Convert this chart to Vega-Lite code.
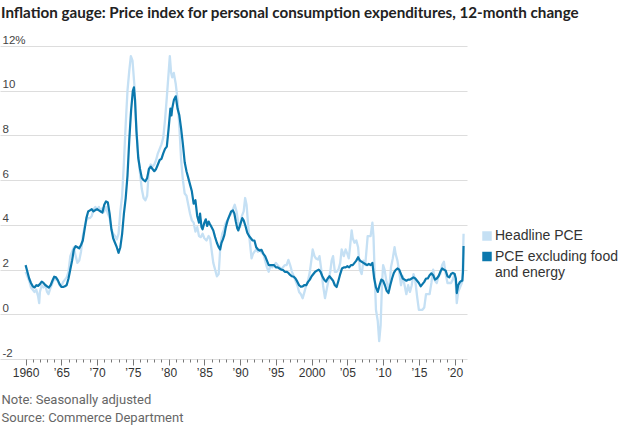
{
  "$schema": "https://vega.github.io/schema/vega-lite/v6.json",
  "width": 467,
  "height": 313,
  "autosize": {"type": "none"},
  "padding": {"left": 0, "top": 46, "right": 153, "bottom": 66},
  "background": "white",
  "config": {"view": {"stroke": null}},
  "title": {
    "text": "Inflation gauge: Price index for personal consumption expenditures, 12-month change",
    "anchor": "start",
    "frame": "group",
    "baseline": "alphabetic",
    "offset": 1,
    "dx": 1,
    "font": "Lato",
    "fontSize": 15.2,
    "fontWeight": "bold",
    "color": "#222222"
  },
  "datasets": {
    "core": [
      {"d":1960,"v":2.2},{"d":1960.25,"v":1.9},{"d":1960.5,"v":1.6},{"d":1960.75,"v":1.4},{"d":1961,"v":1.25},{"d":1961.25,"v":1.2},{"d":1961.5,"v":1.3},{"d":1961.75,"v":1.27},{"d":1962,"v":1.35},{"d":1962.25,"v":1.46},{"d":1962.5,"v":1.4},{"d":1962.75,"v":1.31},{"d":1963,"v":1.25},{"d":1963.25,"v":1.19},{"d":1963.5,"v":1.3},{"d":1963.75,"v":1.5},{"d":1964,"v":1.68},{"d":1964.25,"v":1.65},{"d":1964.5,"v":1.53},{"d":1964.75,"v":1.35},{"d":1965,"v":1.23},{"d":1965.25,"v":1.22},{"d":1965.5,"v":1.25},{"d":1965.75,"v":1.31},{"d":1966,"v":1.6},{"d":1966.25,"v":2.0},{"d":1966.5,"v":2.4},{"d":1966.75,"v":2.9},{"d":1967,"v":3.05},{"d":1967.25,"v":3.0},{"d":1967.5,"v":2.95},{"d":1967.75,"v":3.1},{"d":1968,"v":3.3},{"d":1968.25,"v":3.8},{"d":1968.5,"v":4.3},{"d":1968.75,"v":4.6},{"d":1969,"v":4.65},{"d":1969.25,"v":4.7},{"d":1969.5,"v":4.6},{"d":1969.75,"v":4.66},{"d":1970,"v":4.7},{"d":1970.25,"v":4.65},{"d":1970.5,"v":4.6},{"d":1970.75,"v":4.55},{"d":1971,"v":4.9},{"d":1971.25,"v":5.05},{"d":1971.5,"v":5.0},{"d":1971.75,"v":4.5},{"d":1972,"v":3.8},{"d":1972.25,"v":3.4},{"d":1972.5,"v":3.2},{"d":1972.75,"v":3.0},{"d":1973,"v":2.75},{"d":1973.25,"v":3.0},{"d":1973.5,"v":3.6},{"d":1973.75,"v":4.5},{"d":1974,"v":5.2},{"d":1974.25,"v":6.2},{"d":1974.5,"v":7.8},{"d":1974.75,"v":9.1},{"d":1975,"v":10.0},{"d":1975.15,"v":10.15},{"d":1975.3,"v":9.6},{"d":1975.5,"v":8.2},{"d":1975.75,"v":7.0},{"d":1976,"v":6.5},{"d":1976.25,"v":6.1},{"d":1976.5,"v":6.0},{"d":1976.75,"v":5.95},{"d":1977,"v":6.1},{"d":1977.25,"v":6.5},{"d":1977.5,"v":6.6},{"d":1977.75,"v":6.5},{"d":1978,"v":6.4},{"d":1978.25,"v":6.5},{"d":1978.5,"v":6.7},{"d":1978.75,"v":6.9},{"d":1979,"v":6.95},{"d":1979.25,"v":7.2},{"d":1979.5,"v":7.4},{"d":1979.75,"v":7.5},{"d":1980,"v":8.3},{"d":1980.25,"v":9.2},{"d":1980.4,"v":8.9},{"d":1980.5,"v":9.2},{"d":1980.75,"v":9.6},{"d":1981,"v":9.75},{"d":1981.25,"v":9.2},{"d":1981.5,"v":8.9},{"d":1981.75,"v":8.3},{"d":1982,"v":7.6},{"d":1982.25,"v":6.8},{"d":1982.5,"v":6.4},{"d":1982.75,"v":6.1},{"d":1983,"v":5.8},{"d":1983.25,"v":5.5},{"d":1983.5,"v":4.95},{"d":1983.75,"v":5.1},{"d":1984,"v":4.4},{"d":1984.25,"v":4.1},{"d":1984.4,"v":4.5},{"d":1984.6,"v":3.9},{"d":1984.75,"v":3.8},{"d":1985,"v":4.1},{"d":1985.2,"v":4.25},{"d":1985.4,"v":3.95},{"d":1985.6,"v":4.15},{"d":1985.75,"v":4.05},{"d":1986,"v":3.9},{"d":1986.25,"v":3.75},{"d":1986.5,"v":3.45},{"d":1986.75,"v":3.2},{"d":1987,"v":3.0},{"d":1987.2,"v":2.9},{"d":1987.4,"v":3.2},{"d":1987.6,"v":3.35},{"d":1987.8,"v":3.55},{"d":1988,"v":3.9},{"d":1988.25,"v":4.2},{"d":1988.5,"v":4.4},{"d":1988.75,"v":4.6},{"d":1989,"v":4.65},{"d":1989.2,"v":4.5},{"d":1989.4,"v":4.15},{"d":1989.6,"v":3.85},{"d":1989.75,"v":3.75},{"d":1990,"v":4.0},{"d":1990.3,"v":4.3},{"d":1990.5,"v":4.2},{"d":1990.75,"v":3.95},{"d":1991,"v":3.65},{"d":1991.25,"v":3.5},{"d":1991.5,"v":3.4},{"d":1991.75,"v":3.3},{"d":1992,"v":3.3},{"d":1992.25,"v":3.0},{"d":1992.5,"v":2.9},{"d":1992.75,"v":2.85},{"d":1993,"v":2.88},{"d":1993.25,"v":2.7},{"d":1993.5,"v":2.6},{"d":1993.75,"v":2.4},{"d":1994,"v":2.2},{"d":1994.25,"v":2.2},{"d":1994.5,"v":2.2},{"d":1994.75,"v":2.2},{"d":1995,"v":2.1},{"d":1995.25,"v":2.1},{"d":1995.5,"v":2.05},{"d":1995.75,"v":2.0},{"d":1996,"v":1.98},{"d":1996.25,"v":1.9},{"d":1996.5,"v":1.9},{"d":1996.75,"v":1.85},{"d":1997,"v":1.76},{"d":1997.25,"v":1.7},{"d":1997.5,"v":1.68},{"d":1997.75,"v":1.6},{"d":1998,"v":1.46},{"d":1998.25,"v":1.3},{"d":1998.5,"v":1.23},{"d":1998.75,"v":1.25},{"d":1999,"v":1.31},{"d":1999.25,"v":1.3},{"d":1999.5,"v":1.45},{"d":1999.75,"v":1.55},{"d":2000,"v":1.7},{"d":2000.25,"v":1.8},{"d":2000.5,"v":1.9},{"d":2000.75,"v":1.95},{"d":2001,"v":2.0},{"d":2001.25,"v":1.9},{"d":2001.5,"v":1.7},{"d":2001.75,"v":1.55},{"d":2002,"v":1.46},{"d":2002.25,"v":1.6},{"d":2002.5,"v":1.7},{"d":2002.75,"v":1.6},{"d":2003,"v":1.5},{"d":2003.25,"v":1.3},{"d":2003.5,"v":1.22},{"d":2003.75,"v":1.5},{"d":2004,"v":1.8},{"d":2004.25,"v":2.05},{"d":2004.5,"v":2.1},{"d":2004.75,"v":2.1},{"d":2005,"v":2.15},{"d":2005.25,"v":2.1},{"d":2005.5,"v":2.2},{"d":2005.75,"v":2.2},{"d":2006,"v":2.3},{"d":2006.25,"v":2.4},{"d":2006.5,"v":2.55},{"d":2006.75,"v":2.4},{"d":2007,"v":2.35},{"d":2007.25,"v":2.3},{"d":2007.5,"v":2.25},{"d":2007.75,"v":2.2},{"d":2008,"v":2.25},{"d":2008.25,"v":2.2},{"d":2008.5,"v":2.3},{"d":2008.75,"v":1.6},{"d":2009,"v":1.2},{"d":2009.25,"v":1.0},{"d":2009.5,"v":1.3},{"d":2009.75,"v":1.55},{"d":2010,"v":1.5},{"d":2010.25,"v":1.3},{"d":2010.5,"v":1.05},{"d":2010.75,"v":0.95},{"d":2011,"v":1.3},{"d":2011.25,"v":1.6},{"d":2011.5,"v":1.85},{"d":2011.75,"v":1.98},{"d":2012,"v":2.05},{"d":2012.25,"v":2.0},{"d":2012.5,"v":1.8},{"d":2012.75,"v":1.6},{"d":2013,"v":1.55},{"d":2013.25,"v":1.5},{"d":2013.5,"v":1.55},{"d":2013.75,"v":1.55},{"d":2014,"v":1.6},{"d":2014.25,"v":1.65},{"d":2014.5,"v":1.6},{"d":2014.75,"v":1.5},{"d":2015,"v":1.4},{"d":2015.25,"v":1.25},{"d":2015.5,"v":1.35},{"d":2015.75,"v":1.45},{"d":2016,"v":1.6},{"d":2016.25,"v":1.6},{"d":2016.5,"v":1.75},{"d":2016.75,"v":1.83},{"d":2017,"v":1.75},{"d":2017.25,"v":1.55},{"d":2017.5,"v":1.6},{"d":2017.75,"v":1.7},{"d":2018,"v":1.9},{"d":2018.25,"v":2.05},{"d":2018.5,"v":2.0},{"d":2018.75,"v":1.95},{"d":2019,"v":1.7},{"d":2019.25,"v":1.65},{"d":2019.5,"v":1.8},{"d":2019.75,"v":1.85},{"d":2020,"v":1.8},{"d":2020.17,"v":1.6},{"d":2020.3,"v":0.95},{"d":2020.5,"v":1.3},{"d":2020.75,"v":1.45},{"d":2021,"v":1.5},{"d":2021.08,"v":1.5},{"d":2021.17,"v":1.9},{"d":2021.25,"v":3.05}
    ],
    "head": [
      {"d":1960,"v":1.9},{"d":1960.25,"v":1.7},{"d":1960.5,"v":1.5},{"d":1960.75,"v":1.2},{"d":1961,"v":1.1},{"d":1961.25,"v":1.0},{"d":1961.5,"v":1.1},{"d":1961.75,"v":0.8},{"d":1961.9,"v":0.5},{"d":1962,"v":1.0},{"d":1962.25,"v":1.3},{"d":1962.5,"v":1.2},{"d":1962.75,"v":1.3},{"d":1963,"v":1.0},{"d":1963.2,"v":0.9},{"d":1963.5,"v":1.2},{"d":1963.75,"v":1.4},{"d":1964,"v":1.6},{"d":1964.25,"v":1.55},{"d":1964.5,"v":1.5},{"d":1964.75,"v":1.3},{"d":1965,"v":1.25},{"d":1965.25,"v":1.45},{"d":1965.5,"v":1.55},{"d":1965.75,"v":1.65},{"d":1966,"v":1.9},{"d":1966.25,"v":2.6},{"d":1966.5,"v":2.8},{"d":1966.75,"v":3.0},{"d":1967,"v":2.6},{"d":1967.25,"v":2.3},{"d":1967.5,"v":2.4},{"d":1967.75,"v":2.8},{"d":1968,"v":3.5},{"d":1968.25,"v":3.9},{"d":1968.5,"v":4.2},{"d":1968.75,"v":4.3},{"d":1969,"v":4.3},{"d":1969.25,"v":4.4},{"d":1969.5,"v":4.7},{"d":1969.75,"v":4.8},{"d":1970,"v":4.7},{"d":1970.25,"v":4.8},{"d":1970.5,"v":4.6},{"d":1970.75,"v":4.75},{"d":1971,"v":4.6},{"d":1971.25,"v":4.8},{"d":1971.5,"v":4.5},{"d":1971.75,"v":4.3},{"d":1972,"v":3.8},{"d":1972.25,"v":3.6},{"d":1972.5,"v":3.5},{"d":1972.75,"v":3.35},{"d":1973,"v":3.6},{"d":1973.25,"v":4.6},{"d":1973.5,"v":5.3},{"d":1973.75,"v":6.8},{"d":1974,"v":8.5},{"d":1974.25,"v":10.0},{"d":1974.5,"v":10.9},{"d":1974.72,"v":11.55},{"d":1974.95,"v":11.35},{"d":1975.2,"v":10.3},{"d":1975.4,"v":8.9},{"d":1975.65,"v":7.5},{"d":1976,"v":6.3},{"d":1976.25,"v":5.6},{"d":1976.5,"v":5.2},{"d":1976.75,"v":5.1},{"d":1977,"v":5.3},{"d":1977.25,"v":6.5},{"d":1977.5,"v":6.7},{"d":1977.75,"v":6.6},{"d":1978,"v":6.7},{"d":1978.25,"v":6.9},{"d":1978.5,"v":7.2},{"d":1978.75,"v":7.4},{"d":1979,"v":7.6},{"d":1979.25,"v":7.9},{"d":1979.5,"v":8.7},{"d":1979.75,"v":9.7},{"d":1980,"v":10.8},{"d":1980.17,"v":11.55},{"d":1980.35,"v":10.8},{"d":1980.5,"v":10.6},{"d":1980.72,"v":10.8},{"d":1981,"v":10.3},{"d":1981.25,"v":9.6},{"d":1981.5,"v":8.4},{"d":1981.75,"v":6.9},{"d":1982,"v":6.0},{"d":1982.25,"v":5.4},{"d":1982.5,"v":5.3},{"d":1982.75,"v":4.9},{"d":1983,"v":4.5},{"d":1983.25,"v":4.2},{"d":1983.5,"v":4.1},{"d":1983.75,"v":3.7},{"d":1984,"v":3.9},{"d":1984.25,"v":3.5},{"d":1984.5,"v":3.45},{"d":1984.75,"v":3.6},{"d":1985,"v":3.4},{"d":1985.3,"v":3.3},{"d":1985.6,"v":3.5},{"d":1985.8,"v":3.4},{"d":1986,"v":2.9},{"d":1986.25,"v":2.3},{"d":1986.5,"v":2.0},{"d":1986.75,"v":1.7},{"d":1987,"v":1.8},{"d":1987.25,"v":3.1},{"d":1987.5,"v":3.6},{"d":1987.75,"v":3.8},{"d":1988,"v":4.1},{"d":1988.25,"v":4.2},{"d":1988.5,"v":4.4},{"d":1988.75,"v":4.5},{"d":1989,"v":4.7},{"d":1989.25,"v":4.9},{"d":1989.5,"v":4.6},{"d":1989.75,"v":4.1},{"d":1990,"v":3.9},{"d":1990.25,"v":4.4},{"d":1990.5,"v":4.6},{"d":1990.7,"v":5.2},{"d":1990.9,"v":4.9},{"d":1991.15,"v":3.9},{"d":1991.4,"v":3.1},{"d":1991.6,"v":2.5},{"d":1991.8,"v":2.7},{"d":1992,"v":2.8},{"d":1992.25,"v":2.9},{"d":1992.5,"v":2.8},{"d":1992.75,"v":2.9},{"d":1993,"v":2.75},{"d":1993.25,"v":2.7},{"d":1993.5,"v":2.4},{"d":1993.75,"v":2.1},{"d":1994,"v":1.9},{"d":1994.25,"v":2.2},{"d":1994.5,"v":2.1},{"d":1994.75,"v":2.2},{"d":1995,"v":2.3},{"d":1995.25,"v":2.2},{"d":1995.5,"v":2.1},{"d":1995.75,"v":2.0},{"d":1996,"v":2.1},{"d":1996.25,"v":2.2},{"d":1996.5,"v":2.2},{"d":1996.75,"v":2.43},{"d":1997,"v":2.2},{"d":1997.25,"v":1.9},{"d":1997.5,"v":1.7},{"d":1997.75,"v":1.5},{"d":1998,"v":1.3},{"d":1998.25,"v":1.0},{"d":1998.5,"v":0.9},{"d":1998.75,"v":0.72},{"d":1999,"v":1.0},{"d":1999.25,"v":1.3},{"d":1999.5,"v":1.5},{"d":1999.75,"v":1.9},{"d":2000,"v":2.5},{"d":2000.15,"v":2.9},{"d":2000.4,"v":2.6},{"d":2000.6,"v":2.5},{"d":2000.9,"v":2.45},{"d":2001.1,"v":2.6},{"d":2001.35,"v":2.0},{"d":2001.6,"v":1.3},{"d":2001.87,"v":0.72},{"d":2002.1,"v":1.1},{"d":2002.35,"v":1.5},{"d":2002.6,"v":1.9},{"d":2002.8,"v":2.4},{"d":2003,"v":2.6},{"d":2003.25,"v":1.9},{"d":2003.5,"v":1.9},{"d":2003.75,"v":2.0},{"d":2004,"v":2.3},{"d":2004.2,"v":2.9},{"d":2004.5,"v":2.6},{"d":2004.75,"v":2.9},{"d":2005,"v":2.7},{"d":2005.2,"v":2.5},{"d":2005.4,"v":3.1},{"d":2005.6,"v":3.75},{"d":2005.75,"v":3.4},{"d":2006,"v":3.2},{"d":2006.25,"v":3.3},{"d":2006.5,"v":3.0},{"d":2006.75,"v":2.0},{"d":2007,"v":1.8},{"d":2007.25,"v":2.4},{"d":2007.5,"v":2.2},{"d":2007.84,"v":3.5},{"d":2008,"v":3.5},{"d":2008.25,"v":3.5},{"d":2008.5,"v":4.1},{"d":2008.65,"v":3.5},{"d":2008.85,"v":1.5},{"d":2009,"v":0.2},{"d":2009.25,"v":-0.3},{"d":2009.45,"v":-1.2},{"d":2009.65,"v":-0.5},{"d":2009.85,"v":1.4},{"d":2010,"v":2.2},{"d":2010.2,"v":2.0},{"d":2010.45,"v":1.5},{"d":2010.7,"v":1.2},{"d":2010.9,"v":1.3},{"d":2011.1,"v":2.1},{"d":2011.35,"v":2.5},{"d":2011.6,"v":3.0},{"d":2011.75,"v":2.7},{"d":2012,"v":2.4},{"d":2012.25,"v":1.9},{"d":2012.5,"v":1.3},{"d":2012.75,"v":1.7},{"d":2013,"v":1.3},{"d":2013.25,"v":0.9},{"d":2013.5,"v":1.3},{"d":2013.75,"v":1.0},{"d":2014,"v":1.3},{"d":2014.25,"v":1.8},{"d":2014.5,"v":1.5},{"d":2014.75,"v":0.8},{"d":2015,"v":0.2},{"d":2015.25,"v":0.2},{"d":2015.5,"v":0.2},{"d":2015.75,"v":0.3},{"d":2016,"v":0.9},{"d":2016.25,"v":0.9},{"d":2016.5,"v":0.9},{"d":2016.75,"v":1.4},{"d":2017,"v":2.0},{"d":2017.25,"v":1.5},{"d":2017.5,"v":1.4},{"d":2017.75,"v":1.7},{"d":2018,"v":1.8},{"d":2018.25,"v":2.2},{"d":2018.5,"v":2.35},{"d":2018.75,"v":1.8},{"d":2019,"v":1.4},{"d":2019.25,"v":1.4},{"d":2019.5,"v":1.4},{"d":2019.75,"v":1.55},{"d":2020,"v":1.8},{"d":2020.17,"v":1.3},{"d":2020.3,"v":0.5},{"d":2020.5,"v":1.0},{"d":2020.75,"v":1.2},{"d":2021,"v":1.4},{"d":2021.08,"v":1.5},{"d":2021.17,"v":2.5},{"d":2021.25,"v":3.6}
    ]
  },
  "encoding": {
    "x": {
      "field": "d",
      "type": "quantitative",
      "scale": {"domain": [1956.42, 2021.73], "nice": false, "zero": false},
      "axis": {
        "values": [1960,1961,1962,1963,1964,1965,1966,1967,1968,1969,1970,1971,1972,1973,1974,1975,1976,1977,1978,1979,1980,1981,1982,1983,1984,1985,1986,1987,1988,1989,1990,1991,1992,1993,1994,1995,1996,1997,1998,1999,2000,2001,2002,2003,2004,2005,2006,2007,2008,2009,2010,2011,2012,2013,2014,2015,2016,2017,2018,2019,2020,2021],
        "format": "d",
        "labelExpr": "datum.value % 5 != 0 ? '' : ((datum.value == 1960 || datum.value == 2000) ? datum.label : '\u2019' + substring(datum.label, 2, 4))",
        "labelOverlap": false,
        "grid": false,
        "domain": false,
        "tickColor": "#777777",
        "tickWidth": 1,
        "tickSize": {"condition": {"test": "datum.value % 5 == 0", "value": 6}, "value": 3},
        "labelPadding": 2,
        "labelFont": "Liberation Sans",
        "labelFontSize": 12,
        "labelColor": "#333333",
        "title": ["Note: Seasonally adjusted", "Source: Commerce Department"],
        "titleFont": "Roboto",
        "titleFontSize": 13,
        "titleFontWeight": "normal",
        "titleColor": "#666666",
        "titleAnchor": "start",
        "titleAlign": "left",
        "titleBaseline": "alphabetic",
        "titleLineHeight": 18,
        "titleX": 1,
        "titleY": 44
      }
    },
    "y": {
      "field": "v",
      "type": "quantitative",
      "scale": {"domain": [-2, 12], "nice": false, "zero": false},
      "axis": {
        "values": [-2, 0, 2, 4, 6, 8, 10, 12],
        "labelExpr": "datum.value == 12 ? '12%' : (datum.value == -2 ? '-2' : datum.label)",
        "title": null,
        "domain": false,
        "ticks": false,
        "tickSize": 0,
        "grid": true,
        "gridColor": "#dddddd",
        "gridWidth": 1,
        "labelAlign": "left",
        "labelBaseline": "alphabetic",
        "labelPadding": -2,
        "labelOffset": -3,
        "labelFont": "Liberation Sans",
        "labelFontSize": 11.5,
        "labelColor": "#444444"
      }
    }
  },
  "layer": [
    {
      "data": {"name": "head"},
      "mark": {"type": "line", "strokeWidth": 2.3, "strokeJoin": "round"},
      "encoding": {
        "color": {
          "datum": "Headline PCE",
          "scale": {"domain": ["Headline PCE", "PCE excluding food and energy"], "range": ["#c5e0f4", "#0b78ad"]},
          "legend": {
            "orient": "none",
            "legendX": 480,
            "legendY": 183,
            "title": null,
            "symbolType": "square",
            "symbolSize": 90,
            "symbolStrokeWidth": 0,
            "labelFont": "Liberation Sans",
            "labelFontSize": 14,
            "labelColor": "#333333",
            "labelOffset": 1,
            "rowPadding": 6.5,
            "labelExpr": "datum.label == 'PCE excluding food and energy' ? ['PCE excluding food', 'and energy'] : datum.label",
            "encode": {"symbols": {"update": {"fill": {"scale": "color", "field": "value"}, "fillOpacity": {"value": 1}, "strokeWidth": {"value": 0}}}}
          }
        }
      }
    },
    {
      "data": {"name": "core"},
      "mark": {"type": "line", "strokeWidth": 2.2, "strokeJoin": "round"},
      "encoding": {"color": {"datum": "PCE excluding food and energy"}}
    },
    {
      "mark": {"type": "rule", "color": "#333333", "strokeWidth": 1},
      "encoding": {"y": {"datum": 0}, "x": null}
    }
  ]
}
